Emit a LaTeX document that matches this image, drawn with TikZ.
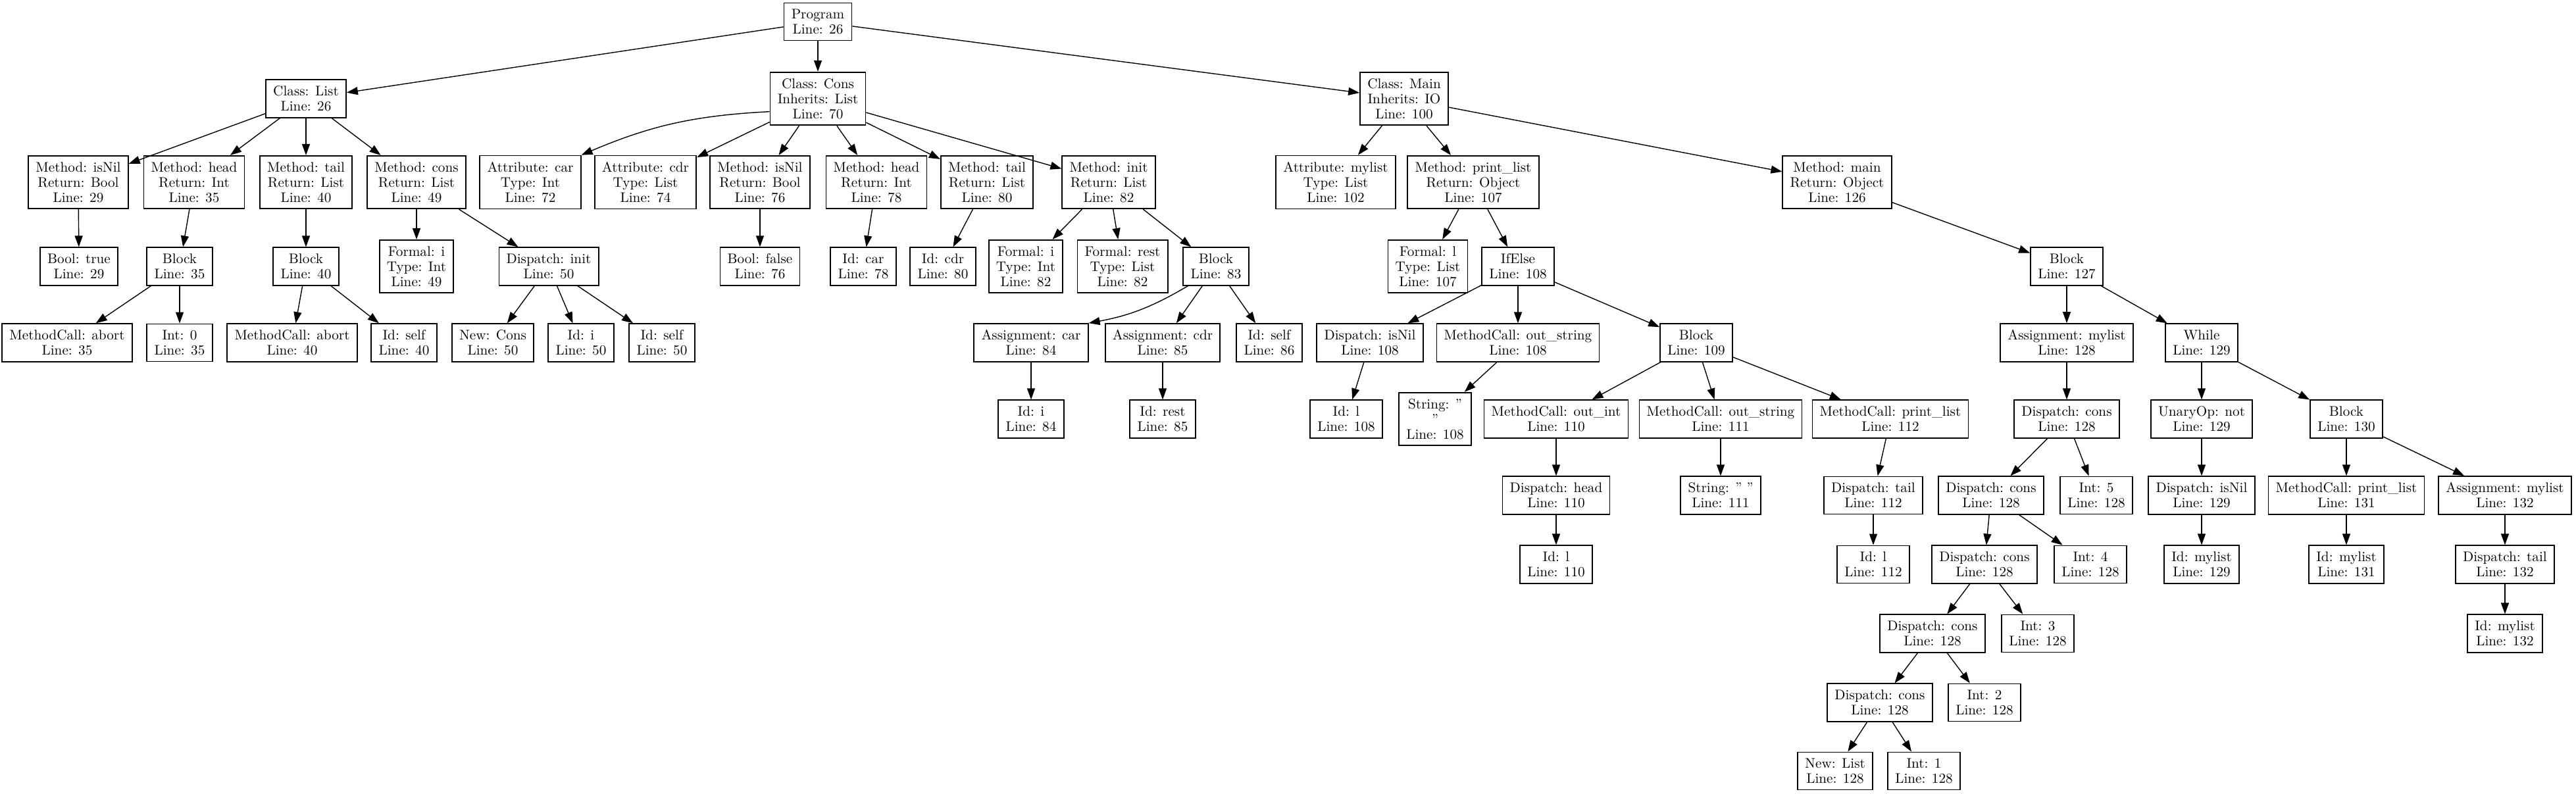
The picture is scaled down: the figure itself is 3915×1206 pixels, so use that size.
\documentclass[tikz,border=0pt]{standalone}
\usetikzlibrary{arrows.meta}
\begin{document}
\begin{tikzpicture}[
  x=0.5pt, y=-0.5pt,
  ast/.style={rectangle, draw=black, line width=0.9pt, minimum width=49pt, minimum height=28.5pt,
              inner xsep=5.6pt, inner ysep=4.8pt, align=center, font=\fontsize{10.6pt}{11.5pt}\selectfont},
  arr/.style={-{Triangle[length=8.5pt,width=6pt]}, line width=0.7pt, black}
]
\useasboundingbox (0,0) rectangle (3915,1206);
% rank 0 and 1
\node[ast] (prog)  at (1243,33)  {Program\\Line: 26};
\node[ast] (clist) at (465,150)  {Class: List\\Line: 26};
\node[ast] (ccons) at (1243,150) {Class: Cons\\Inherits: List\\Line: 70};
\node[ast] (cmain) at (2134,150) {Class: Main\\Inherits: IO\\Line: 100};
% features
\node[ast] (misnil)  at (119,277)  {Method: isNil\\Return: Bool\\Line: 29};
\node[ast] (mhead)   at (295,277)  {Method: head\\Return: Int\\Line: 35};
\node[ast] (mtail)   at (465,277)  {Method: tail\\Return: List\\Line: 40};
\node[ast] (mcons)   at (633,277)  {Method: cons\\Return: List\\Line: 49};
\node[ast] (acar)    at (806,277)  {Attribute: car\\Type: Int\\Line: 72};
\node[ast] (acdr)    at (981,277)  {Attribute: cdr\\Type: List\\Line: 74};
\node[ast] (cisnil)  at (1155,277) {Method: isNil\\Return: Bool\\Line: 76};
\node[ast] (chead)   at (1332,277) {Method: head\\Return: Int\\Line: 78};
\node[ast] (ctail)   at (1500,277) {Method: tail\\Return: List\\Line: 80};
\node[ast] (cinit)   at (1685,277) {Method: init\\Return: List\\Line: 82};
\node[ast] (amylist) at (2030,277) {Attribute: mylist\\Type: List\\Line: 102};
\node[ast] (mprint)  at (2239,277) {Method: print\_list\\Return: Object\\Line: 107};
\node[ast] (mmain)   at (2792,277) {Method: main\\Return: Object\\Line: 126};
% rank 3
\node[ast] (btrue)  at (120,405)  {Bool: true\\Line: 29};
\node[ast] (blk35)  at (273,405)  {Block\\Line: 35};
\node[ast] (blk40)  at (465,405)  {Block\\Line: 40};
\node[ast] (fi49)   at (633,405)  {Formal: i\\Type: Int\\Line: 49};
\node[ast] (dinit)  at (834,405)  {Dispatch: init\\Line: 50};
\node[ast] (bfalse) at (1155,405) {Bool: false\\Line: 76};
\node[ast] (idcar)  at (1312,405) {Id: car\\Line: 78};
\node[ast] (idcdr)  at (1433,405) {Id: cdr\\Line: 80};
\node[ast] (fi82)   at (1559,405) {Formal: i\\Type: Int\\Line: 82};
\node[ast] (frest)  at (1706,405) {Formal: rest\\Type: List\\Line: 82};
\node[ast] (blk83)  at (1848,405) {Block\\Line: 83};
\node[ast] (fl)     at (2170,405) {Formal: l\\Type: List\\Line: 107};
\node[ast] (ifelse) at (2307,405) {IfElse\\Line: 108};
\node[ast] (blk127) at (3141,405) {Block\\Line: 127};
% rank 4
\node[ast] (abort35)   at (102,521)  {MethodCall: abort\\Line: 35};
\node[ast] (int0)      at (273,521)  {Int: 0\\Line: 35};
\node[ast] (abort40)   at (444,521)  {MethodCall: abort\\Line: 40};
\node[ast] (self40)    at (614,521)  {Id: self\\Line: 40};
\node[ast] (newcons)   at (749,521)  {New: Cons\\Line: 50};
\node[ast] (idi50)     at (883,521)  {Id: i\\Line: 50};
\node[ast] (self50)    at (1006,521) {Id: self\\Line: 50};
\node[ast] (asgcar)    at (1567,521) {Assignment: car\\Line: 84};
\node[ast] (asgcdr)    at (1767,521) {Assignment: cdr\\Line: 85};
\node[ast] (self86)    at (1929,521) {Id: self\\Line: 86};
\node[ast] (disnil108) at (2082,521) {Dispatch: isNil\\Line: 108};
\node[ast] (outstr108) at (2307,521) {MethodCall: out\_string\\Line: 108};
\node[ast] (blk109)    at (2578,521) {Block\\Line: 109};
\node[ast] (asgmylist) at (3141,521) {Assignment: mylist\\Line: 128};
\node[ast] (while)     at (3346,521) {While\\Line: 129};
% rank 5
\node[ast] (idi84)     at (1567,637) {Id: i\\Line: 84};
\node[ast] (idrest)    at (1767,637) {Id: rest\\Line: 85};
\node[ast] (idl108)    at (2046,637) {Id: l\\Line: 108};
\node[ast] (str108)    at (2181,637) {String: "\\"\\Line: 108};
\node[ast] (outint)    at (2365,637) {MethodCall: out\_int\\Line: 110};
\node[ast] (outstr111) at (2615,637) {MethodCall: out\_string\\Line: 111};
\node[ast] (pl112)     at (2873,637) {MethodCall: print\_list\\Line: 112};
\node[ast] (dcons1)    at (3141,637) {Dispatch: cons\\Line: 128};
\node[ast] (unot)      at (3346,637) {UnaryOp: not\\Line: 129};
\node[ast] (blk130)    at (3566,637) {Block\\Line: 130};
% rank 6
\node[ast] (dhead)     at (2365,753) {Dispatch: head\\Line: 110};
\node[ast] (str111)    at (2615,753) {String: " "\\Line: 111};
\node[ast] (dtail112)  at (2847,753) {Dispatch: tail\\Line: 112};
\node[ast] (dcons2)    at (3026,753) {Dispatch: cons\\Line: 128};
\node[ast] (int5)      at (3186,753) {Int: 5\\Line: 128};
\node[ast] (disnil129) at (3346,753) {Dispatch: isNil\\Line: 129};
\node[ast] (pl131)     at (3566,753) {MethodCall: print\_list\\Line: 131};
\node[ast] (asg132)    at (3807,753) {Assignment: mylist\\Line: 132};
% rank 7
\node[ast] (idl110)    at (2365,858) {Id: l\\Line: 110};
\node[ast] (idl112)    at (2847,858) {Id: l\\Line: 112};
\node[ast] (dcons3)    at (3016,858) {Dispatch: cons\\Line: 128};
\node[ast] (int4)      at (3177,858) {Int: 4\\Line: 128};
\node[ast] (idml129)   at (3346,858) {Id: mylist\\Line: 129};
\node[ast] (idml131)   at (3566,858) {Id: mylist\\Line: 131};
\node[ast] (dtail132)  at (3807,858) {Dispatch: tail\\Line: 132};
% rank 8 to 10
\node[ast] (dcons4)    at (2937,963)  {Dispatch: cons\\Line: 128};
\node[ast] (int3)      at (3097,963)  {Int: 3\\Line: 128};
\node[ast] (idml132)   at (3807,963)  {Id: mylist\\Line: 132};
\node[ast] (dcons5)    at (2857,1068) {Dispatch: cons\\Line: 128};
\node[ast] (int2)      at (3016,1068) {Int: 2\\Line: 128};
\node[ast] (newlist)   at (2789,1172) {New: List\\Line: 128};
\node[ast] (int1)      at (2924,1172) {Int: 1\\Line: 128};
% edges
\draw[arr] (prog) -- (clist);
\draw[arr] (prog) -- (ccons);
\draw[arr] (prog) -- (cmain);
\draw[arr] (clist) -- (misnil);
\draw[arr] (clist) -- (mhead);
\draw[arr] (clist) -- (mtail);
\draw[arr] (clist) -- (mcons);
\draw[arr] (ccons.195) to[bend right=10] (acar.north east);
\draw[arr] (ccons) -- (acdr);
\draw[arr] (ccons) -- (cisnil);
\draw[arr] (ccons) -- (chead);
\draw[arr] (ccons) -- (ctail);
\draw[arr] (ccons) -- (cinit);
\draw[arr] (cmain) -- (amylist);
\draw[arr] (cmain) -- (mprint);
\draw[arr] (cmain) -- (mmain);
\draw[arr] (misnil) -- (btrue);
\draw[arr] (mhead) -- (blk35);
\draw[arr] (mtail) -- (blk40);
\draw[arr] (mcons) -- (fi49);
\draw[arr] (mcons) -- (dinit);
\draw[arr] (cisnil) -- (bfalse);
\draw[arr] (chead) -- (idcar);
\draw[arr] (ctail) -- (idcdr);
\draw[arr] (cinit) -- (fi82);
\draw[arr] (cinit) -- (frest);
\draw[arr] (cinit) -- (blk83);
\draw[arr] (mprint) -- (fl);
\draw[arr] (mprint) -- (ifelse);
\draw[arr] (mmain) -- (blk127);
\draw[arr] (blk35) -- (abort35);
\draw[arr] (blk35) -- (int0);
\draw[arr] (blk40) -- (abort40);
\draw[arr] (blk40) -- (self40);
\draw[arr] (dinit) -- (newcons);
\draw[arr] (dinit) -- (idi50);
\draw[arr] (dinit) -- (self50);
\draw[arr] ([xshift=4pt]blk83.south west) to[bend left=10] (asgcar.north east);
\draw[arr] (blk83) -- (asgcdr);
\draw[arr] (blk83) -- (self86);
\draw[arr] (ifelse) -- (disnil108);
\draw[arr] (ifelse) -- (outstr108);
\draw[arr] (ifelse) -- (blk109);
\draw[arr] (blk127) -- (asgmylist);
\draw[arr] (blk127) -- (while);
\draw[arr] (asgcar) -- (idi84);
\draw[arr] (asgcdr) -- (idrest);
\draw[arr] (disnil108) -- (idl108);
\draw[arr] (outstr108) -- (str108);
\draw[arr] (blk109) -- (outint);
\draw[arr] (blk109) -- (outstr111);
\draw[arr] (blk109) -- (pl112);
\draw[arr] (asgmylist) -- (dcons1);
\draw[arr] (while) -- (unot);
\draw[arr] (while) -- (blk130);
\draw[arr] (outint) -- (dhead);
\draw[arr] (outstr111) -- (str111);
\draw[arr] (pl112) -- (dtail112);
\draw[arr] (dcons1) -- (dcons2);
\draw[arr] (dcons1) -- (int5);
\draw[arr] (unot) -- (disnil129);
\draw[arr] (blk130) -- (pl131);
\draw[arr] (blk130) -- (asg132);
\draw[arr] (dhead) -- (idl110);
\draw[arr] (dtail112) -- (idl112);
\draw[arr] (dcons2) -- (dcons3);
\draw[arr] (dcons2) -- (int4);
\draw[arr] (disnil129) -- (idml129);
\draw[arr] (pl131) -- (idml131);
\draw[arr] (asg132) -- (dtail132);
\draw[arr] (dcons3) -- (dcons4);
\draw[arr] (dcons3) -- (int3);
\draw[arr] (dtail132) -- (idml132);
\draw[arr] (dcons4) -- (dcons5);
\draw[arr] (dcons4) -- (int2);
\draw[arr] (dcons5) -- (newlist);
\draw[arr] (dcons5) -- (int1);
\end{tikzpicture}
\end{document}
